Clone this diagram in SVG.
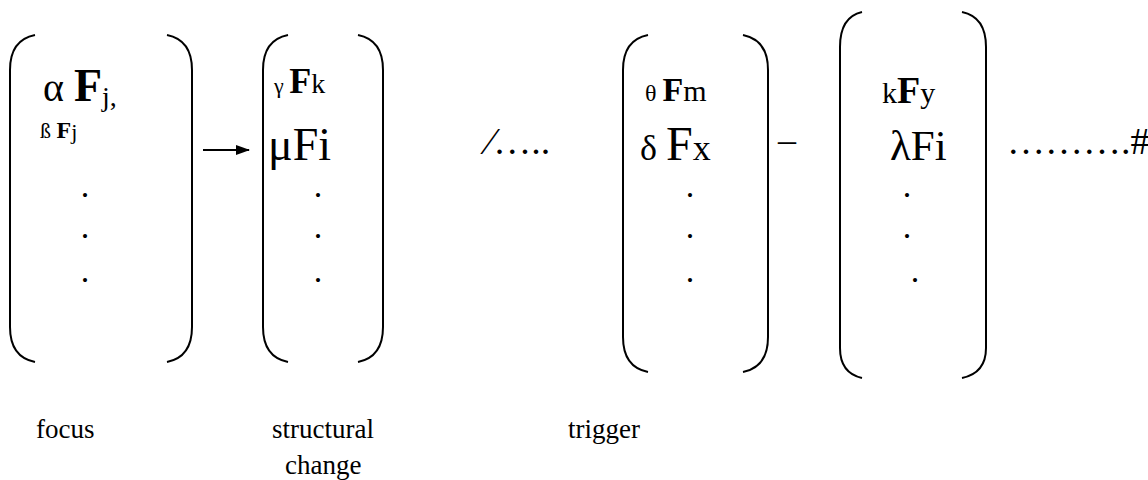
<svg xmlns="http://www.w3.org/2000/svg" width="1148" height="480" viewBox="0 0 1148 480">
<style>
text{font-family:"Liberation Serif","Times New Roman",serif;fill:#000}
.b{font-weight:bold}
.p{fill:none;stroke:#000;stroke-width:2}
.d{font-size:34px;text-anchor:middle}
.lbl{font-size:27px}
</style>
<defs>
<marker id="ah" markerWidth="14" markerHeight="10" refX="13" refY="5" orient="auto" markerUnits="userSpaceOnUse">
<path d="M0,0 L14,5 L0,10 Z" fill="#000"/>
</marker>
</defs>
<rect width="1148" height="480" fill="#fff"/>
<g id="m1">
<path class="p" d="M35,35 Q10,40 10,70 V327 Q10,357 35,362"/>
<path class="p" d="M167,35 Q192,40 192,70 V327 Q192,357 167,362"/>
<text x="43" y="101"><tspan font-size="40">α </tspan><tspan class="b" font-size="46">F</tspan><tspan font-size="28" dy="5">j,</tspan></text>
<text x="40" y="138"><tspan font-size="22">ß </tspan><tspan class="b" font-size="24">F</tspan><tspan font-size="22" dy="1">j</tspan></text>
<text class="d" x="85" y="197">.</text>
<text class="d" x="85" y="238">.</text>
<text class="d" x="85" y="282">.</text>
</g>
<g id="m2">
<path class="p" d="M288,35 Q263,40 263,70 V327 Q263,357 288,362"/>
<path class="p" d="M358,35 Q383,40 383,70 V327 Q383,357 358,362"/>
<text x="274" y="93"><tspan font-size="22">γ </tspan><tspan class="b" font-size="36">F</tspan><tspan font-size="28">k</tspan></text>
<text x="268" y="160" font-size="46">μFi</text>
<text class="d" x="318" y="197">.</text>
<text class="d" x="318" y="238">.</text>
<text class="d" x="318" y="282">.</text>
</g>
<g id="sep1">
<text x="487" y="154" font-size="38">⁄…..</text>
</g>
<g id="m3">
<path class="p" d="M648,35 Q623,40 623,70 V337 Q623,367 648,372"/>
<path class="p" d="M743,35 Q768,40 768,70 V337 Q768,367 743,372"/>
<text x="645" y="101"><tspan font-size="24">θ </tspan><tspan class="b" font-size="34">F</tspan><tspan font-size="30">m</tspan></text>
<text x="640" y="160"><tspan font-size="36">δ </tspan><tspan font-size="48">F</tspan><tspan font-size="36">x</tspan></text>
<text class="d" x="690" y="197">.</text>
<text class="d" x="690" y="238">.</text>
<text class="d" x="690" y="282">.</text>
</g>
<g id="m4">
<path class="p" d="M862,12 Q840,17 840,47 V348 Q840,373 862,378"/>
<path class="p" d="M962,12 Q986,17 986,47 V348 Q986,373 962,378"/>
<text x="882" y="103"><tspan font-size="30">k</tspan><tspan class="b" font-size="38">F</tspan><tspan font-size="30">y</tspan></text>
<text x="890" y="160" font-size="43">λFi</text>
<text class="d" x="907" y="197">.</text>
<text class="d" x="907" y="238">.</text>
<text class="d" x="915" y="282">.</text>
</g>
<g id="tail">
<text x="778" y="152" font-size="36">–</text>
<text x="1007" y="154" font-size="38">……….#</text>
</g>
<g id="connectors">
<line x1="203" y1="150" x2="249" y2="150" stroke="#000" stroke-width="2" marker-end="url(#ah)"/>
</g>
<g id="labels">
<text class="lbl" x="36" y="438">focus</text>
<text class="lbl" x="272" y="438">structural</text>
<text class="lbl" x="285" y="474">change</text>
<text class="lbl" x="568" y="438">trigger</text>
</g>
</svg>
